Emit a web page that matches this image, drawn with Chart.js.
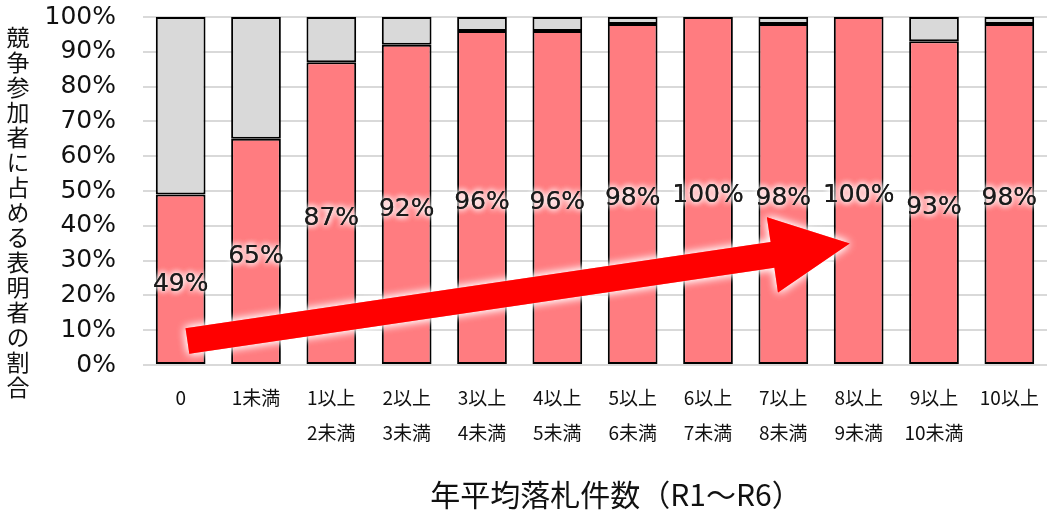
<!DOCTYPE html>
<html lang="ja">
<head>
<meta charset="utf-8">
<title>競争参加者に占める表明者の割合</title>
<script src="https://cdn.jsdelivr.net/npm/chart.js@4.4.1/dist/chart.umd.min.js"></script>
<style>
  html, body { margin: 0; padding: 0; background: #fff; }
  #wrap { position: relative; width: 1056px; height: 518px; }
  #chart { position: absolute; left: 0; top: 0; }
  #ytitle {
    position: absolute; left: 6px; top: 26px;
    writing-mode: vertical-rl; text-orientation: upright;
    font-family: "Noto Sans CJK JP", sans-serif; font-size: 23px;
    letter-spacing: 2px; line-height: 1; color: #111;
  }
</style>
</head>
<body>
<div id="wrap">
  <canvas id="chart" width="1056" height="518"></canvas>
  <div id="ytitle">競争参加者に占める表明者の割合</div>
</div>
<script>
/* ── Data ─────────────────────────────────────────────────── */

const categories = [
  ['0'], ['1未満'], ['1以上', '2未満'], ['2以上', '3未満'], ['3以上', '4未満'],
  ['4以上', '5未満'], ['5以上', '6未満'], ['6以上', '7未満'], ['7以上', '8未満'],
  ['8以上', '9未満'], ['9以上', '10未満'], ['10以上'],
];

// 表明者の割合 (%)
const shareValues = [49, 65, 87, 92, 96, 96, 98, 100, 98, 100, 93, 98];
// 残り (%)
const restValues = shareValues.map((v) => 100 - v);

const yTicks = [0, 10, 20, 30, 40, 50, 60, 70, 80, 90, 100];

const xTitle = '年平均落札件数（R1～R6）';

// 矢印 (カテゴリ位置, %値)
const arrowFrom = { x: 0.09, y: 6.9 };
const arrowTo = { x: 8.88, y: 34.9 };

/* ── Plugins ──────────────────────────────────────────────── */

const FONT_NUM = '"DejaVu Sans", Verdana, sans-serif';
const FONT_JP = '"Noto Sans CJK JP", sans-serif';

const barLabels = {
  id: 'barLabels',
  afterDatasetsDraw(chart) {
    const { ctx } = chart;
    const meta = chart.getDatasetMeta(0);
    ctx.save();
    ctx.font = '25px ' + FONT_NUM;
    ctx.textAlign = 'center';
    ctx.textBaseline = 'middle';
    meta.data.forEach((bar, i) => {
      const yMid = (bar.y + bar.base) / 2 + 5;
      const txt = shareValues[i] + '%';
      ctx.shadowColor = 'rgba(255,255,255,1)';
      ctx.shadowBlur = 6;
      ctx.fillStyle = '#1a1a1a';
      for (let k = 0; k < 3; k++) ctx.fillText(txt, bar.x, yMid);
    });
    ctx.restore();
  },
};

// 横軸タイトル (グラフ中心より少し右寄り)
const xAxisTitle = {
  id: 'xAxisTitle',
  afterDraw(chart) {
    const { ctx } = chart;
    ctx.save();
    ctx.font = '30px ' + FONT_JP;
    ctx.fillStyle = '#111';
    ctx.textAlign = 'center';
    ctx.textBaseline = 'middle';
    ctx.fillText(xTitle, 616, 495);
    ctx.restore();
  },
};

const trendArrow = {
  id: 'trendArrow',
  afterDraw(chart) {
    const { ctx, scales } = chart;
    const x0 = scales.x.getPixelForValue(arrowFrom.x);
    const y0 = scales.y.getPixelForValue(arrowFrom.y);
    const x1 = scales.x.getPixelForValue(arrowTo.x);
    const y1 = scales.y.getPixelForValue(arrowTo.y);
    const ang = Math.atan2(y1 - y0, x1 - x0);
    const len = Math.hypot(x1 - x0, y1 - y0);
    const shaft = 13, head = 38, headLen = 78;

    ctx.save();
    ctx.translate(x0, y0);
    ctx.rotate(ang);
    ctx.beginPath();
    ctx.moveTo(0, -shaft);
    ctx.lineTo(len - headLen, -shaft);
    ctx.lineTo(len - headLen, -head);
    ctx.lineTo(len, 0);
    ctx.lineTo(len - headLen, head);
    ctx.lineTo(len - headLen, shaft);
    ctx.lineTo(0, shaft);
    ctx.closePath();
    ctx.shadowColor = 'rgba(255,255,255,1)';
    ctx.shadowBlur = 10;
    ctx.fillStyle = '#ff0000';
    ctx.fill();
    ctx.fill();
    ctx.restore();
  },
};

/* ── Chart ────────────────────────────────────────────────── */

new Chart(document.getElementById('chart'), {
  type: 'bar',
  data: {
    labels: categories,
    datasets: [
      {
        label: '表明者',
        data: shareValues,
        backgroundColor: '#ff7c80',
        borderColor: '#000',
        borderWidth: 2,
        borderSkipped: false,
        barPercentage: 0.66,
        categoryPercentage: 1,
      },
      {
        label: 'その他',
        data: restValues,
        backgroundColor: '#d9d9d9',
        borderColor: '#000',
        borderWidth: 2,
        borderSkipped: false,
        barPercentage: 0.66,
        categoryPercentage: 1,
      },
    ],
  },
  options: {
    responsive: false,
    animation: false,
    layout: { padding: { left: 0, right: 9, top: 17, bottom: 0 } },
    plugins: {
      legend: { display: false },
      tooltip: { enabled: false },
    },
    scales: {
      x: {
        stacked: true,
        grid: { display: false, drawTicks: false },
        border: { display: false },
        ticks: {
          color: '#111',
          font: { family: FONT_JP, size: 19, lineHeight: 1.8 },
          padding: 16,
          maxRotation: 0,
          autoSkip: false,
        },
        afterFit(scale) { scale.height = 518 - 365; },
      },
      y: {
        stacked: true,
        min: 0,
        max: 100,
        afterBuildTicks(scale) { scale.ticks = yTicks.map((v) => ({ value: v })); },
        grid: { color: '#d9d9d9', lineWidth: 2, drawTicks: false },
        border: { display: false },
        ticks: {
          color: '#111',
          font: { family: FONT_NUM, size: 25 },
          padding: 27,
          callback: (v) => v + '%',
        },
        afterFit(scale) {
          scale.width = 143;
          scale.paddingTop = 0;
          scale.paddingBottom = 0;
        },
      },
    },
  },
  plugins: [barLabels, trendArrow, xAxisTitle],
});
</script>
</body>
</html>
